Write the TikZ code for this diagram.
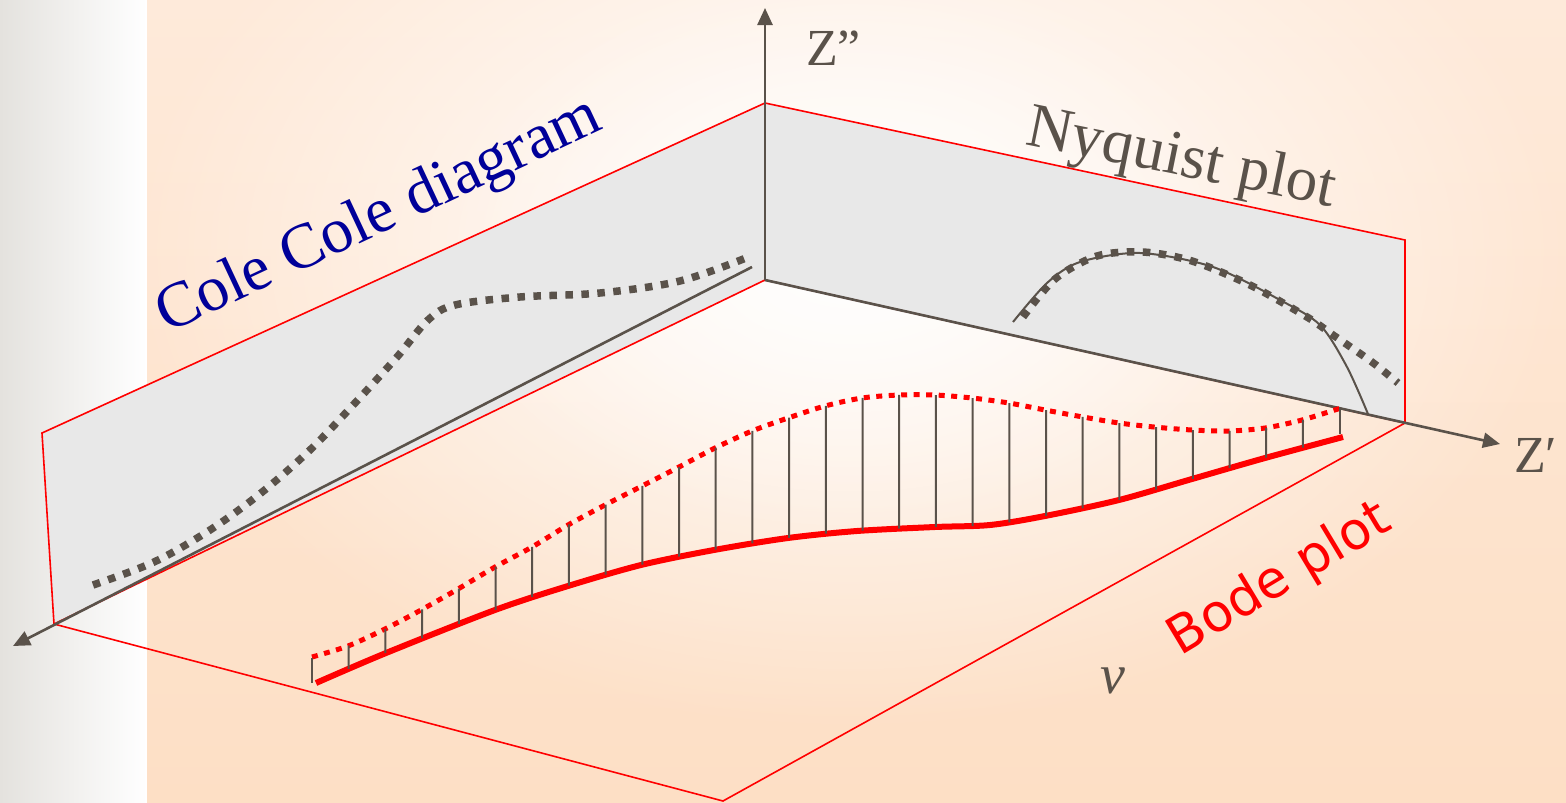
\documentclass[tikz,border=0pt]{standalone}
\usepackage{fontspec}
\setmainfont{Liberation Serif}
\newfontfamily\bodefont{DejaVu Sans}
\usetikzlibrary{arrows.meta,intersections,fadings}
\definecolor{axgray}{RGB}{90,82,74}
\definecolor{plane}{RGB}{232,232,232}
\definecolor{coleblue}{RGB}{0,0,153}
\definecolor{peachtop}{RGB}{254,234,218}
\definecolor{peachbot}{RGB}{253,223,197}
\definecolor{stripgray}{RGB}{228,226,222}
\tikzfading[name=glowfade, inner color=transparent!0, outer color=transparent!100]
\begin{document}
\begin{tikzpicture}[x=1pt,y=-1pt,
  planeedge/.style={draw=red, line width=1.6pt},
  axisline/.style={draw=axgray, line width=2.6pt, -{Triangle[width=15pt,length=17pt]}},
  graydots/.style={draw=axgray, line width=7.5pt, dash pattern=on 7.5pt off 8.5pt},
  reddots/.style={draw=red, line width=5pt, dash pattern=on 6pt off 6.5pt},
  bodeline/.style={draw=red, line width=6pt},
  vline/.style={draw=axgray, line width=2pt},
  thinarc/.style={draw=axgray, line width=2pt},
  lab/.style={inner sep=0pt, text=axgray}]
\useasboundingbox (0,0) rectangle (1566,803);
% background
\shade[left color=stripgray, right color=white] (0,0) rectangle (147,803);
\shade[top color=peachtop, bottom color=peachbot] (147,0) rectangle (1566,803);
\begin{scope}
  \clip (147,0) rectangle (1566,803);
  \fill[white, path fading=glowfade] (850,250) ellipse (720 and 480);
  \fill[white, path fading=glowfade, fill opacity=0.6] (850,250) ellipse (420 and 290);
\end{scope}
% corners
\coordinate (O) at (765,280);
\coordinate (T) at (765,103);
\coordinate (LT) at (42,433);
\coordinate (LB) at (54,624);
\coordinate (RT) at (1405,240);
\coordinate (RB) at (1405,423);
\coordinate (BB) at (723,801);
% planes
\draw[planeedge] (LB) -- (BB) -- (RB);
\filldraw[planeedge, fill=plane] (O) -- (T) -- (LT) -- (LB) -- cycle;
\filldraw[planeedge, fill=plane] (O) -- (T) -- (RT) -- (RB) -- cycle;
% Cole Cole curve
\draw[graydots] plot[smooth, tension=0.55] coordinates {(93,585) (154,562) (210,530) (261,493) (310,450) (355,403) (397,357) (428,320) (455,305) (520,297) (600,293) (680,281) (751,256)};
% Nyquist curves
\draw[thinarc] plot[smooth] coordinates {(1013,322) (1047,283) (1080,262) (1140,253) (1213,267) (1280,300) (1320,325) (1347,367) (1368,414)};
\draw[graydots] plot[smooth] coordinates {(1023,317) (1055,279) (1097,256) (1143,252) (1192,261) (1250,285) (1307,317) (1333,335) (1372,362) (1398,383)};
% axes
\coordinate (Ztip) at (765,8);
\coordinate (Xtip) at (1500,444);
\coordinate (Ystart) at (752,267);
\coordinate (Ytip) at (13,646);
\draw[axisline] (O) -- (Ztip);
\draw[axisline] (O) -- (Xtip);
\draw[axisline] (Ystart) -- (Ytip);
% Bode curves
\draw[bodeline, name path=solid] plot[smooth, tension=0.5] coordinates {(316,683) (386,653) (495,610) (568,586) (641,565) (714,550) (788,538) (857,531) (935,527) (990,525) (1045,516) (1119,500) (1192,479) (1265,458) (1343,437)};
\draw[reddots, name path=dotted] plot[smooth, tension=0.5] coordinates {(312,657) (348,646) (385,629) (421,610) (458,589) (495,567) (532,547) (568,525) (605,505) (642,486) (679,467) (715,448) (752,431) (788,418) (825,406) (862,398) (899,395) (935,395) (972,398) (1009,403) (1045,410) (1083,417) (1119,423) (1154,427) (1192,430) (1229,431) (1265,428) (1302,420) (1341,408)};
\coordinate (v1a) at (312,658);
\coordinate (v1b) at (312,683);
\draw[vline] (v1a) -- (v1b);
\foreach \k in {1,...,27} {
  \pgfmathsetmacro{\x}{312+36.7*\k}
  \path[name path=vl] (\x,300) -- (\x,720);
  \path[name intersections={of=vl and dotted, by={p}}];
  \path[name intersections={of=vl and solid, by={q}}];
  \draw[vline] (p) -- (q);
}
\coordinate (v29a) at (1340,408);
\coordinate (v29b) at (1340,434);
\draw[vline] (v29a) -- (v29b);
% labels
\node[lab, text=coleblue, anchor=base west, font=\fontsize{64}{64}\selectfont, rotate=25.1] (cole) at (167,334) {Cole Cole diagram};
\node[lab, anchor=base west, font=\fontsize{63}{63}\selectfont, rotate=-11.5] (nyq) at (1024,144) {Nyquist plot};
\node[lab, text=red, font=\bodefont\fontsize{52}{52}\selectfont, rotate=31] (bode) at (1280,580) {Bode plot};
\node[lab, anchor=base west, font=\fontsize{52}{52}\selectfont] (zpp) at (806,65) {Z”};
\node[lab, anchor=base west, font=\fontsize{52}{52}\selectfont] (zp) at (1514,472) {Z\symbol{"2032}};
\node[lab, anchor=base west, font=\itshape\fontsize{56}{56}\selectfont] (nu) at (1100,693) {ν};
\end{tikzpicture}
\end{document}
